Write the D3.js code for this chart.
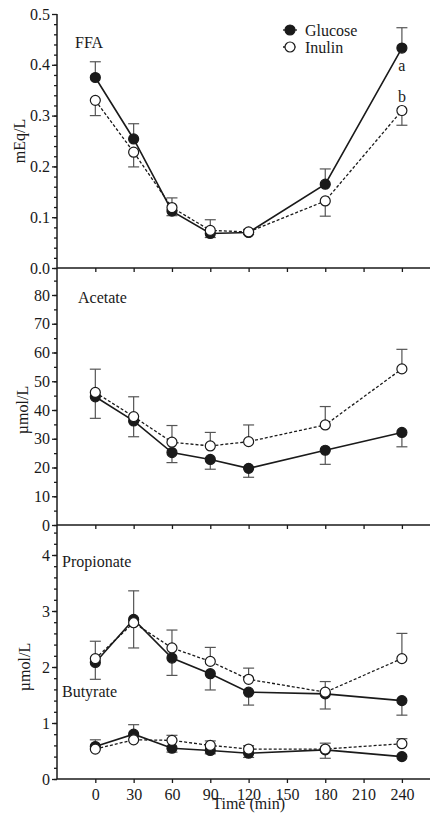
<!DOCTYPE html>
<html>
<head>
<meta charset="utf-8">
<script src="https://cdn.jsdelivr.net/npm/d3@7"></script>
<style>
  html, body { margin: 0; padding: 0; background: #fff; }
  svg { display: block; font-family: "Liberation Serif", "Times New Roman", serif; }
</style>
</head>
<body>
<svg id="chart" width="430" height="816"></svg>
<script>
// sampling times (min)
var times = [0, 30, 60, 90, 120, 180, 240];
var xTicks = [0, 30, 60, 90, 120, 150, 180, 210, 240];

// signed errors: positive = bar drawn up, negative = bar drawn down
var ffaGlucose = [0.375, 0.254, 0.112, 0.068, 0.070, 0.165, 0.433];
var ffaGlucoseErr = [0.031, 0.030, -0.009, -0.008, -0.004, 0.030, 0.040];
var ffaInulin = [0.330, 0.228, 0.119, 0.074, 0.071, 0.132, 0.310];
var ffaInulinErr = [-0.030, -0.029, 0.019, 0.021, 0.005, -0.030, -0.029];

var acetateGlucose = [44.6, 36.2, 25.2, 22.8, 19.7, 26.0, 32.2];
var acetateGlucoseErr = [-7.5, -5.5, -3.5, -3.4, -3.1, -4.9, -5.0];
var acetateInulin = [46.1, 37.7, 28.8, 27.5, 29.0, 34.8, 54.3];
var acetateInulinErr = [8.1, 6.9, 5.8, 4.7, 5.8, 6.4, 6.8];

var propionateGlucose = [2.08, 2.85, 2.16, 1.88, 1.55, 1.52, 1.40];
var propionateGlucoseErr = [-0.30, 0.51, -0.31, -0.29, -0.23, -0.27, -0.26];
var propionateInulin = [2.15, 2.79, 2.34, 2.10, 1.78, 1.55, 2.15];
var propionateInulinErr = [0.31, -0.45, 0.32, 0.25, 0.20, 0.19, 0.45];

var butyrateGlucose = [0.58, 0.80, 0.55, 0.51, 0.46, 0.52, 0.40];
var butyrateGlucoseErr = [0.12, 0.17, -0.07, -0.06, -0.075, -0.15, 0];
var butyrateInulin = [0.535, 0.70, 0.69, 0.60, 0.535, 0.535, 0.63];
var butyrateInulinErr = [0, 0, 0.09, 0.08, 0.06, 0.105, 0.09];

var ffaTicks = [0, 0.1, 0.2, 0.3, 0.4, 0.5];
var acetateTicks = [0, 10, 20, 30, 40, 50, 60, 70, 80];
var scfaTicks = [0, 1, 2, 3, 4];

var svg = d3.select("#chart");
var axisX = 57, rightX = 430;
var ink = "#1a1a1a";

var x = d3.scaleLinear().domain([-30, 262]).range([axisX, 401.9 + (262 - 240) * (344.9 / 270)]);

var panels = [
    {
        y: d3.scaleLinear().domain([0, 0.5]).range([268, 14]),
        bottom: 268, ticks: ffaTicks, minor: d3.range(0, 0.5, 0.02),
        fmt: d3.format(".1f"), unit: "mEq/L", unitX: 25,
        series: [
            {values: ffaGlucose, err: ffaGlucoseErr, filled: true},
            {values: ffaInulin, err: ffaInulinErr, filled: false}
        ],
        labels: [{text: "FFA", x: 75, y: 48}]
    },
    {
        y: d3.scaleLinear().domain([0, 80]).range([525, 295]),
        bottom: 525, ticks: acetateTicks, minor: d3.range(0, 89, 5),
        fmt: d3.format("d"), unit: "\u00b5mol/L", unitX: 28,
        series: [
            {values: acetateGlucose, err: acetateGlucoseErr, filled: true},
            {values: acetateInulin, err: acetateInulinErr, filled: false}
        ],
        labels: [{text: "Acetate", x: 78, y: 303}]
    },
    {
        y: d3.scaleLinear().domain([0, 4]).range([779, 555]),
        bottom: 779, ticks: scfaTicks, minor: d3.range(0, 4.5, 0.2),
        fmt: d3.format("d"), unit: "\u00b5mol/L", unitX: 30,
        series: [
            {values: propionateGlucose, err: propionateGlucoseErr, filled: true},
            {values: propionateInulin, err: propionateInulinErr, filled: false},
            {values: butyrateGlucose, err: butyrateGlucoseErr, filled: true},
            {values: butyrateInulin, err: butyrateInulinErr, filled: false}
        ],
        labels: [{text: "Propionate", x: 62, y: 567}, {text: "Butyrate", x: 62, y: 697}]
    }
];

function styleAxis(g){
    g.select(".domain").remove();
    g.selectAll("line").attr("stroke", ink).attr("stroke-width", 1.3);
    g.selectAll("text").attr("fill", ink).attr("font-size", 16)
        .attr("font-family", "'Liberation Serif', 'Times New Roman', serif");
}

panels.forEach(function(p, pi){
    var y = p.y;

    // minor ticks
    svg.append("g").attr("transform", "translate(" + axisX + ",0)")
        .call(d3.axisLeft(y).tickValues(p.minor).tickSize(3).tickFormat(""))
        .call(styleAxis);
    // major ticks
    svg.append("g").attr("transform", "translate(" + axisX + ",0)")
        .call(d3.axisLeft(y).tickValues(p.ticks).tickSize(5).tickPadding(2).tickFormat(p.fmt))
        .call(styleAxis);

    // x axis of this panel
    var xa = svg.append("g").attr("transform", "translate(0," + p.bottom + ")")
        .call(d3.axisBottom(x).tickValues(xTicks).tickSize(4).tickPadding(6)
            .tickFormat(pi === panels.length - 1 ? d3.format("d") : ""))
        .call(styleAxis);
    svg.append("line").attr("x1", axisX).attr("x2", rightX)
        .attr("y1", p.bottom).attr("y2", p.bottom)
        .attr("stroke", ink).attr("stroke-width", 1.5);

    // unit label
    var midY = (y.range()[0] + y(y.domain()[1])) / 2;
    svg.append("text")
        .attr("transform", "translate(" + p.unitX + "," + midY + ") rotate(-90)")
        .attr("text-anchor", "middle").attr("font-size", 16).attr("fill", ink)
        .text(p.unit);

    p.labels.forEach(function(l){
        svg.append("text").attr("x", l.x).attr("y", l.y)
            .attr("font-size", 16).attr("fill", ink).text(l.text);
    });

    var line = d3.line().x(function(d, i){ return x(times[i]); }).y(function(d){ return y(d); });

    p.series.forEach(function(s){
        var g = svg.append("g");
        // error bars
        s.values.forEach(function(v, i){
            if (!s.err[i]) return;
            var cx = x(times[i]), y0 = y(v), y1 = y(v + s.err[i]);
            g.append("line").attr("x1", cx).attr("x2", cx).attr("y1", y0).attr("y2", y1)
                .attr("stroke", "#555").attr("stroke-width", 1.2);
            g.append("line").attr("x1", cx - 5.5).attr("x2", cx + 5.5).attr("y1", y1).attr("y2", y1)
                .attr("stroke", "#555").attr("stroke-width", 1.2);
        });
    });

    p.series.forEach(function(s){
        svg.append("path").datum(s.values).attr("d", line)
            .attr("fill", "none").attr("stroke", ink)
            .attr("stroke-width", s.filled ? 1.6 : 1.3)
            .attr("stroke-dasharray", s.filled ? null : "3,2");
    });

    p.series.forEach(function(s){
        svg.append("g").selectAll("circle").data(s.values).enter().append("circle")
            .attr("cx", function(d, i){ return x(times[i]); })
            .attr("cy", function(d){ return y(d); })
            .attr("r", 5)
            .attr("fill", s.filled ? ink : "#fff")
            .attr("stroke", ink).attr("stroke-width", 1.2);
    });
});

// continuous y axis line
svg.append("line").attr("x1", axisX).attr("x2", axisX)
    .attr("y1", panels[0].y(0.5)).attr("y2", panels[2].bottom)
    .attr("stroke", ink).attr("stroke-width", 1.5);

// x axis title
svg.append("text").attr("x", x(120)).attr("y", 809)
    .attr("text-anchor", "middle").attr("font-size", 16).attr("fill", ink)
    .text("Time (min)");

// significance letters
svg.append("text").attr("x", x(240)).attr("y", 71).attr("text-anchor", "middle")
    .attr("font-size", 16).attr("fill", ink).text("a");
svg.append("text").attr("x", x(240)).attr("y", 102).attr("text-anchor", "middle")
    .attr("font-size", 16).attr("fill", ink).text("b");

// legend
var legend = [{name: "Glucose", filled: true}, {name: "Inulin", filled: false}];
var lg = svg.append("g").attr("transform", "translate(290,30)");
legend.forEach(function(d, i){
    var row = lg.append("g").attr("transform", "translate(0," + (i * 17) + ")");
    row.append("line").attr("x1", -7).attr("x2", 7).attr("stroke", ink).attr("stroke-width", 1.3)
        .attr("stroke-dasharray", d.filled ? null : "2,1.5");
    row.append("circle").attr("r", 5).attr("fill", d.filled ? ink : "#fff")
        .attr("stroke", ink).attr("stroke-width", 1.2);
    row.append("text").attr("x", 15).attr("y", 5.5).attr("font-size", 16).attr("fill", ink).text(d.name);
});
</script>
</body>
</html>
